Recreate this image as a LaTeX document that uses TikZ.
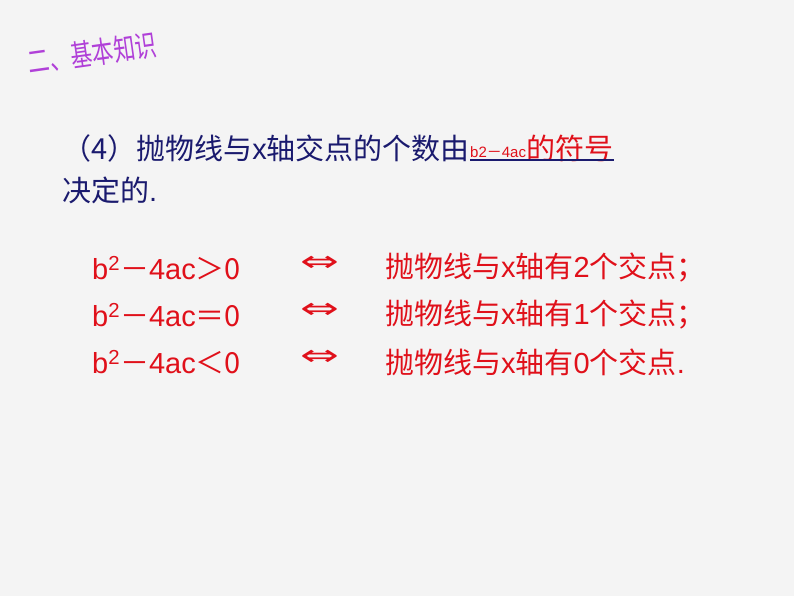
\documentclass[tikz,border=0pt]{standalone}
\usepackage{fontspec}
\setmainfont{Liberation Sans}
\newfontfamily\cjk{Noto Sans CJK SC}
\newfontfamily\djvfont{DejaVu Sans}
\definecolor{bg}{HTML}{F4F4F4}
\definecolor{navy}{HTML}{1A1A6E}
\definecolor{rd}{HTML}{E0101A}
\definecolor{pur}{HTML}{B040D8}
\begin{document}
\begin{tikzpicture}[x=1pt,y=-1pt,
  body/.style={anchor=west,inner sep=0pt,font=\fontsize{29}{34}\selectfont},
  redtxt/.style={body,text=rd}]
\fill[bg] (0,0) rectangle (794,596);
\useasboundingbox (0,0) rectangle (794,596);
\node[anchor=west,inner sep=0pt,text=pur,font=\cjk\fontsize{30}{34}\selectfont,rotate=8,xscale=0.72] (t) at (28,62) {二、基本知识};
\node[body,text=navy] (l1) at (62,148) {\cjk（4）抛物线与{\fontspec{Liberation Sans}x}轴交点的个数由};
\node[anchor=west,inner sep=0pt,text=rd,font=\fontsize{15}{17}\selectfont] (b) at ([yshift=-4pt]l1.east) {b2{\cjk－}4ac};
\node[anchor=west,inner sep=0pt,text=rd,font=\cjk\fontsize{29}{34}\selectfont] (f) at (b.east|-l1.east) {的符号};
\draw[navy,line width=1.2pt] ([yshift=-12pt]b.west|-l1.east) -- ([yshift=-12pt]f.east);
\node[body,text=navy] (l2) at (62,190) {\cjk 决定的{\fontspec{Liberation Sans}.}};
\foreach \y/\r/\n/\p [count=\i] in {268/{\cjk＞}/2/{\cjk；},315/{\cjk＝}/1/{\cjk；},362/{\cjk＜}/0/.}{
  \node[redtxt] (a\i) at (92,\y) {b\textsuperscript{2}{\cjk－}4ac\r0};
  \node[redtxt,font=\djvfont\fontsize{29}{34}\selectfont,xscale=1.6] (e\i) at (300,\y-4) {⇔};
  \node[redtxt] (c\i) at (385,\y) {{\cjk 抛物线与}x{\cjk 轴有}\n{\cjk 个交点}\p};
}
\end{tikzpicture}
\end{document}
